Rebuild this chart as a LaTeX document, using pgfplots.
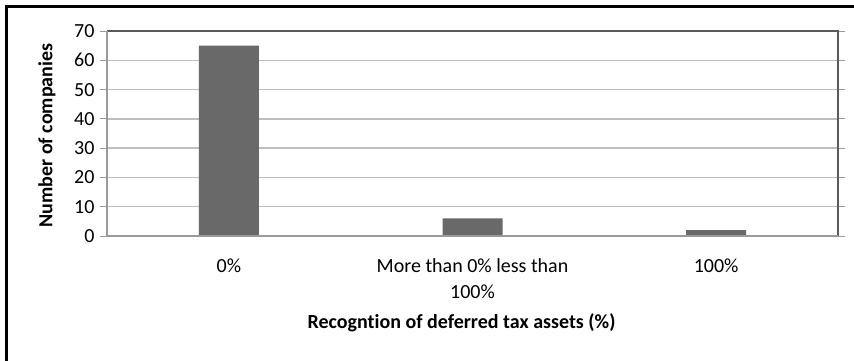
\documentclass[border=0pt]{standalone}
\usepackage{fontspec}
\setmainfont{Carlito}[Ligatures=NoCommon]
\usepackage{pgfplots}
\pgfplotsset{compat=1.18}
\definecolor{barc}{HTML}{696969}
\definecolor{gridc}{HTML}{BEBEBE}
\definecolor{axc}{HTML}{9A9A9A}
\definecolor{framec}{HTML}{5A5A5A}
\begin{document}
\begin{tikzpicture}
\begin{axis}[
  at={(107pt,-236pt)}, anchor=south west,
  scale only axis, width=731pt, height=205pt,
  xmin=-0.5, xmax=2.5, ymin=0, ymax=70,
  ytick={0,10,...,70},
  xtick={0,1,2},
  xticklabels={0\%, {More than 0\% less than\\100\%}, 100\%},
  x tick label style={align=center, font=\fontsize{20}{26}\selectfont, yshift=-12pt},
  y tick label style={font=\fontsize{20}{24}\selectfont, xshift=-2pt},
  /pgf/number format/assume math mode=true,
  major x tick style={draw=none},
  major y tick style={draw=axc, line width=1pt},
  tick align=outside, major tick length=7pt,
  ymajorgrids, grid style={gridc, line width=1.5pt},
  axis line style={draw=none},
  xlabel={Recogntion of deferred tax assets (\%)},
  xlabel style={font=\fontsize{20}{24}\selectfont\bfseries, at={(rel axis cs:0.485,0)}, yshift=-87pt, anchor=center},
  clip=false,
]
\addplot[ybar, bar width=60pt, fill=barc, draw=none] coordinates {(0,65) (1,6) (2,2)};
\draw[framec, line width=1.5pt] (rel axis cs:0,1) -- (rel axis cs:1,1) -- (rel axis cs:1,0);
\draw[axc, line width=1.5pt] (rel axis cs:0,1) -- (rel axis cs:0,0) -- (rel axis cs:1,0);
\node[font=\fontsize{20}{24}\selectfont\bfseries, rotate=90, anchor=center] at ([xshift=-60pt]rel axis cs:0,0.49) {Number of companies};
\end{axis}
\begin{scope}
\clip (0,0) rectangle (854pt,-360pt);
\draw[black, line width=3pt] (6.5pt,-400pt) -- (6.5pt,-6.5pt) -- (900pt,-6.5pt);
\end{scope}
\pgfresetboundingbox
\path (0,0) rectangle (854pt,-360pt);
\end{tikzpicture}
\end{document}
